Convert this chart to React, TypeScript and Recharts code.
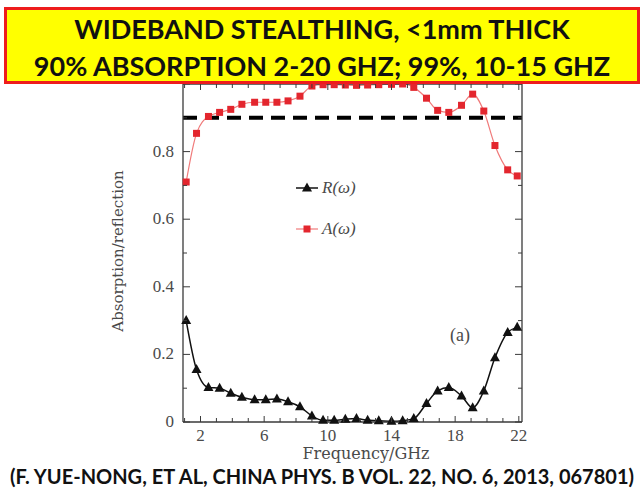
import { LineChart, Line, XAxis, YAxis, ReferenceLine } from 'recharts';

// frequency (GHz) of each sample
const freq = [1.1, 1.75, 2.5, 3.2, 3.9, 4.6, 5.4, 6.1, 6.8, 7.5, 8.25, 9.0, 9.7, 10.4, 11.1, 11.8, 12.5, 13.2, 14.0, 14.7, 15.4, 16.2, 16.9, 17.6, 18.4, 19.1, 19.8, 20.5, 21.3, 21.9];
// A(w)
const absorption = [0.71, 0.854, 0.904, 0.916, 0.925, 0.94, 0.946, 0.946, 0.946, 0.95, 0.964, 0.994, 0.998, 0.998, 0.997, 0.996, 0.997, 0.998, 0.999, 1.0, 0.99, 0.958, 0.922, 0.916, 0.937, 0.97, 0.92, 0.818, 0.746, 0.728];
// R(w)
const reflection = [0.30, 0.155, 0.102, 0.10, 0.085, 0.073, 0.066, 0.066, 0.068, 0.06, 0.045, 0.018, 0.005, 0.005, 0.008, 0.01, 0.005, 0.004, 0.002, 0.004, 0.01, 0.055, 0.092, 0.102, 0.077, 0.042, 0.092, 0.19, 0.265, 0.28];

const xTicks = [1, 2, 3, 4, 5, 6, 7, 8, 9, 10, 11, 12, 13, 14, 15, 16, 17, 18, 19, 20, 21, 22];
const xLabels = [2, 6, 10, 14, 18, 22];
const yTicks = [0, 0.1, 0.2, 0.3, 0.4, 0.5, 0.6, 0.7, 0.8, 0.9, 1.0];
const yLabels = [0, 0.2, 0.4, 0.6, 0.8];
const yMajor = [0, 0.2, 0.4, 0.6, 0.8, 1.0];
const threshold = 0.9;

const titleLines = ['WIDEBAND STEALTHING, <1mm THICK', '90% ABSORPTION 2-20 GHZ; 99%, 10-15 GHZ'];
const citation = '(F. YUE-NONG, ET AL, CHINA PHYS. B VOL. 22, NO. 6, 2013, 067801)';

const data = freq.map((f, i) => ({ f, A: absorption[i], R: reflection[i] }));

const serif = '"Liberation Serif", "DejaVu Serif", serif';
const wideSerif = '"DejaVu Serif", serif';
const axisColor = '#3a3a3a';
const textColor = '#4a4a4a';

const inList = (list: number[], v: number) => list.some(l => Math.abs(l - v) < 1e-6);

const XTick = (props: any) => {
  const { x, y, payload, top } = props;
  const major = inList(xLabels, payload.value);
  const len = major ? 6 : 4;
  return (
    <g>
      <line x1={x} x2={x} y1={y} y2={top ? y + len : y - len} stroke={axisColor} strokeWidth={1} />
      {major && !top && (
        <text x={x} y={y + 19} textAnchor="middle" fontFamily={serif} fontSize={17} fill={textColor}>
          {payload.value}
        </text>
      )}
    </g>
  );
};

const YTick = (props: any) => {
  const { x, y, payload, right } = props;
  const len = inList(yMajor, payload.value) ? 7 : 4;
  return (
    <g>
      <line x1={x} x2={right ? x - len : x + len} y1={y} y2={y} stroke={axisColor} strokeWidth={1} />
      {!right && inList(yLabels, payload.value) && (
        <text x={x - 9} y={y + 5} textAnchor="end" fontFamily={serif} fontSize={17} fill={textColor}>
          {payload.value === 0 ? '0' : payload.value.toFixed(1)}
        </text>
      )}
    </g>
  );
};

const SquareDot = (props: any) => {
  const { cx, cy, index } = props;
  return <rect key={`a-${index}`} x={cx - 3.5} y={cy - 3.5} width={7} height={7} fill="#e3262e" />;
};

const TriDot = (props: any) => {
  const { cx, cy, index } = props;
  return <polygon key={`r-${index}`} points={`${cx},${cy - 5.5} ${cx - 5},${cy + 3.5} ${cx + 5},${cy + 3.5}`} fill="#111" />;
};

const LegendBox = () => (
  <svg width={110} height={70} style={{ position: 'absolute', left: 292, top: 176, overflow: 'visible' }}>
    <line x1={4} x2={26} y1={12} y2={12} stroke="#111" strokeWidth={1.5} />
    <polygon points="15,6.5 10,15.5 20,15.5" fill="#111" />
    <text x={30} y={17} fontFamily={serif} fontStyle="italic" fontSize={17} fill={textColor}>R(ω)</text>
    <line x1={4} x2={26} y1={53} y2={53} stroke="#f07a7a" strokeWidth={1.2} />
    <rect x={11.5} y={49.5} width={7} height={7} fill="#e3262e" />
    <text x={30} y={58} fontFamily={serif} fontStyle="italic" fontSize={17} fill={textColor}>A(ω)</text>
  </svg>
);

export default function App() {
  return (
    <div style={{ position: 'absolute', left: 0, top: 0, width: 644, height: 495, background: '#fff', overflow: 'hidden' }}>
      <LineChart width={644} height={495} data={data} margin={{ top: 83, right: 121, left: 0, bottom: 0 }}>
        <XAxis
          xAxisId="bottom"
          dataKey="f"
          type="number"
          domain={[0.9, 22.2]}
          ticks={xTicks}
          interval={0}
          height={73}
          tickSize={0}
          tickMargin={0}
          tick={<XTick />}
          stroke={axisColor}
          strokeWidth={1.3}
        />
        <XAxis
          xAxisId="top"
          orientation="top"
          dataKey="f"
          type="number"
          domain={[0.9, 22.2]}
          ticks={xTicks}
          interval={0}
          height={1}
          tickSize={0}
          tickMargin={0}
          tick={<XTick top />}
          stroke={axisColor}
          strokeWidth={1.3}
        />
        <YAxis
          yAxisId="left"
          type="number"
          domain={[0, 1]}
          ticks={yTicks}
          interval={0}
          width={183}
          tickSize={0}
          tickMargin={0}
          tick={<YTick />}
          stroke={axisColor}
          strokeWidth={1.3}
        />
        <YAxis
          yAxisId="right"
          orientation="right"
          type="number"
          domain={[0, 1]}
          ticks={yTicks}
          interval={0}
          width={1}
          tickSize={0}
          tickMargin={0}
          tick={<YTick right />}
          stroke={axisColor}
          strokeWidth={1.3}
        />
        <ReferenceLine xAxisId="bottom" yAxisId="left" y={threshold} stroke="#000" strokeWidth={4} strokeDasharray="14 8" />
        {/* invisible series so the mirrored top/right frame axes are drawn */}
        <Line
          xAxisId="top"
          yAxisId="right"
          dataKey="A"
          stroke="none"
          dot={false}
          activeDot={false}
          legendType="none"
          isAnimationActive={false}
        />
        <Line
          xAxisId="bottom"
          yAxisId="left"
          type="monotone"
          dataKey="A"
          stroke="#f07a7a"
          strokeWidth={1.2}
          dot={<SquareDot />}
          isAnimationActive={false}
        />
        <Line
          xAxisId="bottom"
          yAxisId="left"
          type="monotone"
          dataKey="R"
          stroke="#111"
          strokeWidth={1.5}
          dot={<TriDot />}
          isAnimationActive={false}
        />
      </LineChart>

      <LegendBox />

      <div style={{ position: 'absolute', left: 450, top: 325, fontFamily: serif, fontSize: 18, color: textColor }}>(a)</div>

      <div
        style={{
          position: 'absolute', left: 118, top: 251, transform: 'translate(-50%, -50%) rotate(-90deg)',
          fontFamily: wideSerif, fontSize: 15, color: textColor, whiteSpace: 'nowrap',
        }}
      >
        Absorption/reflection
      </div>
      <div
        style={{
          position: 'absolute', left: 366, top: 453, transform: 'translate(-50%, -50%)',
          fontFamily: wideSerif, fontSize: 16, color: textColor, whiteSpace: 'nowrap',
        }}
      >
        Frequency/GHz
      </div>

      <div
        style={{
          position: 'absolute', left: 4, top: 7, width: 636, height: 77, boxSizing: 'border-box',
          background: '#ffff00', border: '3px solid #ee1c1c', fontFamily: 'Lato, "Open Sans", sans-serif',
          fontWeight: 700, fontSize: 27, color: '#111', textAlign: 'center',
        }}
      >
        <div style={{ position: 'absolute', left: 0, right: 0, top: 2, lineHeight: '34px' }}>{titleLines[0]}</div>
        <div style={{ position: 'absolute', left: 0, right: 0, top: 39, lineHeight: '34px' }}>{titleLines[1]}</div>
      </div>

      <div
        style={{
          position: 'absolute', left: 0, width: 644, top: 463, textAlign: 'center', lineHeight: '26px',
          fontFamily: 'Lato, "Open Sans", sans-serif', fontWeight: 700, fontSize: 20, color: '#111', whiteSpace: 'nowrap',
        }}
      >
        {citation}
      </div>
    </div>
  );
}
